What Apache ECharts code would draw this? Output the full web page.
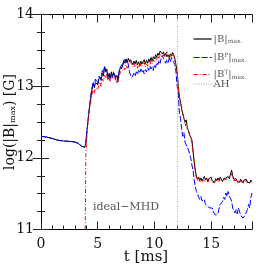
<!DOCTYPE html>
<html><head><meta charset="utf-8">
<script src="https://cdn.jsdelivr.net/npm/echarts@6/dist/echarts.min.js"></script>
<style>html,body{margin:0;padding:0;background:#fff}#c{width:266px;height:266px}</style>
</head><body><div id="c"></div>
<script>
// time samples [ms]
const t = [0,0.5,1,1.5,2,2.5,3,3.3,3.6,3.75,3.85,3.95,
4.0,4.1,4.2,4.3,4.4,4.5,4.6,4.7,4.8,4.9,
5.0,5.1,5.2,5.3,5.4,5.5,5.6,5.7,5.8,5.9,
6.0,6.1,6.2,6.3,6.4,6.5,6.6,6.7,6.8,6.9,
7.0,7.1,7.2,7.3,7.4,7.5,7.6,7.7,7.8,7.9,
8.0,8.1,8.2,8.3,8.4,8.5,8.6,8.7,8.8,8.9,
9.0,9.1,9.2,9.3,9.4,9.5,9.6,9.7,9.8,9.9,
10.0,10.1,10.2,10.3,10.4,10.5,10.6,10.7,10.8,10.9,
11.0,11.1,11.2,11.3,11.4,11.5,11.6,11.7,11.8,11.9,
12.0,12.1,12.2,12.3,12.4,12.5,12.6,12.7,12.8,12.9,
13.0,13.1,13.2,13.3,13.4,13.5,13.6,13.7,13.8,13.9,
14.0,14.1,14.2,14.3,14.4,14.5,14.6,14.7,14.8,14.9,
15.0,15.1,15.2,15.3,15.4,15.5,15.6,15.7,15.8,15.9,
16.0,16.1,16.2,16.3,16.4,16.5,16.6,16.7,16.8,16.9,
17.0,17.1,17.2,17.3,17.4,17.5,17.6,17.7,17.8,17.9,
18.0,18.1,18.2,18.3,18.4,18.5,18.6];

// log |B|max
const bTot = [12.30,12.29,12.27,12.245,12.235,12.23,12.22,12.20,12.16,12.14,12.15,12.20,
12.30,12.45,12.60,12.74,12.85,12.95,13.04,12.98,13.05,13.06,
13.02,13.10,13.13,13.08,13.18,13.14,13.27,13.20,13.24,13.12,
13.18,13.11,13.20,13.14,13.19,13.16,13.12,13.15,13.09,13.20,
13.27,13.24,13.30,13.36,13.32,13.38,13.33,13.39,13.34,13.37,
13.33,13.30,13.35,13.31,13.36,13.30,13.34,13.29,13.35,13.31,
13.33,13.37,13.31,13.36,13.32,13.38,13.34,13.40,13.35,13.41,
13.38,13.44,13.40,13.46,13.43,13.49,13.51,13.45,13.48,13.42,
13.46,13.41,13.44,13.40,13.45,13.42,13.47,13.44,13.38,13.30,
13.20,13.00,12.85,12.78,12.68,12.62,12.55,12.50,12.53,12.42,
12.38,12.32,12.30,12.25,12.10,11.95,11.83,11.74,11.70,11.73,
11.69,11.72,11.68,11.71,11.74,11.69,11.72,11.67,11.71,11.69,
11.73,11.68,11.70,11.66,11.71,11.68,11.72,11.69,11.73,11.70,
11.67,11.71,11.69,11.72,11.70,11.74,11.71,11.77,11.83,11.75,
11.70,11.68,11.71,11.67,11.69,11.66,11.70,11.68,11.65,11.69,
11.67,11.70,11.66,11.68,11.65,11.69,11.66];

// log |B^P|max
const bPol = [12.30,12.29,12.27,12.245,12.235,12.23,12.22,12.20,12.16,12.14,12.15,12.20,
12.30,12.45,12.60,12.74,12.88,12.98,13.06,13.00,13.10,13.08,
13.03,13.14,13.15,13.10,13.22,13.18,13.28,13.22,13.20,13.10,
13.15,13.08,13.17,13.12,13.20,13.14,13.10,13.05,13.12,13.22,
13.25,13.30,13.27,13.36,13.39,13.33,13.36,13.30,13.20,13.15,
13.12,13.10,13.18,13.14,13.20,13.16,13.22,13.18,13.24,13.19,
13.22,13.17,13.23,13.20,13.26,13.22,13.28,13.24,13.27,13.22,
13.30,13.26,13.33,13.30,13.36,13.32,13.40,13.43,13.38,13.35,
13.32,13.37,13.33,13.38,13.34,13.40,13.36,13.33,13.30,13.20,
13.00,12.90,12.62,12.55,12.40,12.30,12.35,12.22,12.18,12.20,
12.11,12.05,12.00,11.90,11.83,11.70,11.60,11.53,11.50,11.45,
11.42,11.46,11.40,11.38,11.42,11.35,11.37,11.32,11.34,11.30,
11.28,11.30,11.24,11.22,11.20,11.18,11.22,11.30,11.35,11.33,
11.39,11.45,11.42,11.51,11.46,11.53,11.47,11.49,11.40,11.30,
11.26,11.23,11.28,11.22,11.30,11.25,11.20,11.22,11.16,11.14,
11.20,11.18,11.28,11.35,11.30,11.45,11.51];

// log |B^T|max (absent before ~3.85 ms)
const bTor = [null,null,null,null,null,null,null,null,null,null,10.0,12.05,
12.20,12.42,12.58,12.70,12.80,12.88,12.95,12.90,12.98,13.00,
12.95,13.02,13.06,13.00,13.10,13.07,13.15,13.12,13.17,13.08,
13.13,13.07,13.15,13.10,13.14,13.11,13.08,13.12,13.06,13.14,
13.20,13.18,13.22,13.26,13.23,13.30,13.25,13.32,13.30,13.34,
13.30,13.27,13.31,13.27,13.30,13.25,13.30,13.26,13.31,13.27,
13.29,13.33,13.27,13.31,13.28,13.33,13.30,13.35,13.31,13.37,
13.33,13.40,13.36,13.42,13.39,13.44,13.46,13.41,13.44,13.40,
13.45,13.48,13.42,13.38,13.43,13.40,13.45,13.42,13.36,13.28,
13.18,12.98,12.84,12.76,12.70,12.60,12.56,12.48,12.50,12.40,
12.37,12.33,12.28,12.22,12.08,11.93,11.80,11.72,11.68,11.71,
11.67,11.70,11.66,11.69,11.71,11.67,11.70,11.66,11.69,11.67,
11.70,11.66,11.68,11.65,11.69,11.67,11.70,11.67,11.71,11.68,
11.66,11.69,11.67,11.70,11.68,11.71,11.69,11.73,11.78,11.72,
11.68,11.66,11.69,11.65,11.67,11.65,11.68,11.66,11.64,11.67,
11.66,11.68,11.65,11.67,11.64,11.68,11.66];

const ahTime = 11.98;
const xTicks = [0, 5, 10, 15];
const yTicks = [11, 12, 13, 14];
const xTitle = 't [ms]';
const yTitle = 'log(|B|{sub|max}) [G]';
const seriesNames = ['|B|max.', '|BP|max.', '|BT|max.', 'AH'];
const seriesColors = ['#000000', '#0000ff', '#ff0000', '#999999'];
const legendLabels = ['|B|{sub|max.}', '|B{sup|P}|{sub|max.}', '|B{sup|T}|{sub|max.}', 'AH'];
const annotation = 'ideal\u2212MHD';

const pairs = v => t.map((x, i) => [x, v[i]]);
const FONT = 'DejaVu Serif';
const chart = echarts.init(document.getElementById('c'), null, {renderer: 'canvas'});

const axisBase = {
  axisLine: {show: true, lineStyle: {color: '#000', width: 1}},
  axisTick: {show: true, inside: true, length: 8, lineStyle: {color: '#222', width: 1}},
  minorTick: {show: true, length: 4, lineStyle: {color: '#222', width: 1}},
  splitLine: {show: false}
};

const legendTops = [29, 47, 64, 74];
const legendDash = ['solid', [6, 2], [4, 2, 1, 2], [1, 1.5]];
const legendRich = {
  sub: {fontFamily: FONT, fontSize: 6, color: '#555', verticalAlign: 'bottom', padding: [5, 0, 0, 0]},
  sup: {fontFamily: FONT, fontSize: 6, color: '#555', verticalAlign: 'top', padding: [0, 0, 5, 0]}
};
const legends = seriesNames.map((n, i) => ({
  orient: 'vertical', left: 188, top: legendTops[i], itemWidth: 18, itemHeight: 9,
  data: [n], formatter: () => legendLabels[i],
  itemStyle: {opacity: 0},
  lineStyle: {width: 1.2, color: seriesColors[i], type: legendDash[i]},
  textStyle: {fontFamily: FONT, fontSize: 10, color: '#555', padding: [0, 0, 0, -3], rich: legendRich}
}));

chart.setOption({
  animation: false,
  backgroundColor: '#fff',
  grid: {left: 41, right: 14, top: 14.5, bottom: 36.5, containLabel: false, outerBoundsMode: 'none'},
  xAxis: [
    Object.assign({}, axisBase, {
      type: 'value', min: 0, max: 18.6, interval: 5,
      minorTick: Object.assign({}, axisBase.minorTick, {splitNumber: 5}),
      axisLabel: {show: true, fontFamily: FONT, fontSize: 14, color: '#111', margin: 8,
        showMaxLabel: false, formatter: v => xTicks.includes(v) ? String(v) : ''}
    }),
    Object.assign({}, axisBase, {
      type: 'value', min: 0, max: 18.6, interval: 5, position: 'top',
      minorTick: Object.assign({}, axisBase.minorTick, {splitNumber: 5}),
      axisLabel: {show: false}
    })
  ],
  yAxis: [
    Object.assign({}, axisBase, {
      type: 'value', min: 11, max: 14, interval: 1,
      minorTick: Object.assign({}, axisBase.minorTick, {splitNumber: 4}),
      axisLabel: {show: true, fontFamily: FONT, fontSize: 14, color: '#111', margin: 7,
        formatter: v => yTicks.includes(v) ? String(v) : ''}
    }),
    Object.assign({}, axisBase, {
      type: 'value', min: 11, max: 14, interval: 1, position: 'right',
      minorTick: Object.assign({}, axisBase.minorTick, {splitNumber: 4}),
      axisLabel: {show: false}
    })
  ],
  legend: legends,
  series: [
    {name: seriesNames[0], type: 'line', data: pairs(bTot), showSymbol: false, symbol: 'none',
      lineStyle: {color: seriesColors[0], width: 1}, itemStyle: {color: seriesColors[0]}, clip: true},
    {name: seriesNames[1], type: 'line', data: pairs(bPol), showSymbol: false, symbol: 'none',
      lineStyle: {color: seriesColors[1], width: 1, type: [6, 2]}, itemStyle: {color: seriesColors[1]}, clip: true},
    {name: seriesNames[2], type: 'line', data: pairs(bTor), showSymbol: false, symbol: 'none', connectNulls: false,
      lineStyle: {color: seriesColors[2], width: 1, type: [4, 2, 1, 2]}, itemStyle: {color: seriesColors[2]}, clip: true},
    {name: seriesNames[3], type: 'line', data: [], showSymbol: false, symbol: 'none',
      lineStyle: {color: seriesColors[3], width: 1, type: [1, 1.5]}, itemStyle: {color: seriesColors[3]},
      markLine: {silent: true, symbol: 'none', label: {show: false},
        lineStyle: {color: '#aaa', width: 1, type: [1, 1.5]},
        data: [{xAxis: ahTime}]}}
  ],
  graphic: [
    {type: 'text', left: 93, top: 202,
      style: {text: annotation, fontFamily: FONT, fontSize: 11, fill: '#555'}},
    {type: 'text', x: 146, y: 257,
      style: {text: xTitle, fontFamily: FONT, fontSize: 15, fill: '#111', align: 'center', verticalAlign: 'middle'}},
    {type: 'text', x: 10, y: 122, rotation: Math.PI / 2,
      style: {text: yTitle, fontFamily: FONT, fontSize: 14, fill: '#111', align: 'center', verticalAlign: 'middle',
        rich: {sub: {fontFamily: FONT, fontSize: 8, fill: '#111', verticalAlign: 'bottom', padding: [6, 0, 0, 0]}}}}
  ]
});
</script>
</body></html>
